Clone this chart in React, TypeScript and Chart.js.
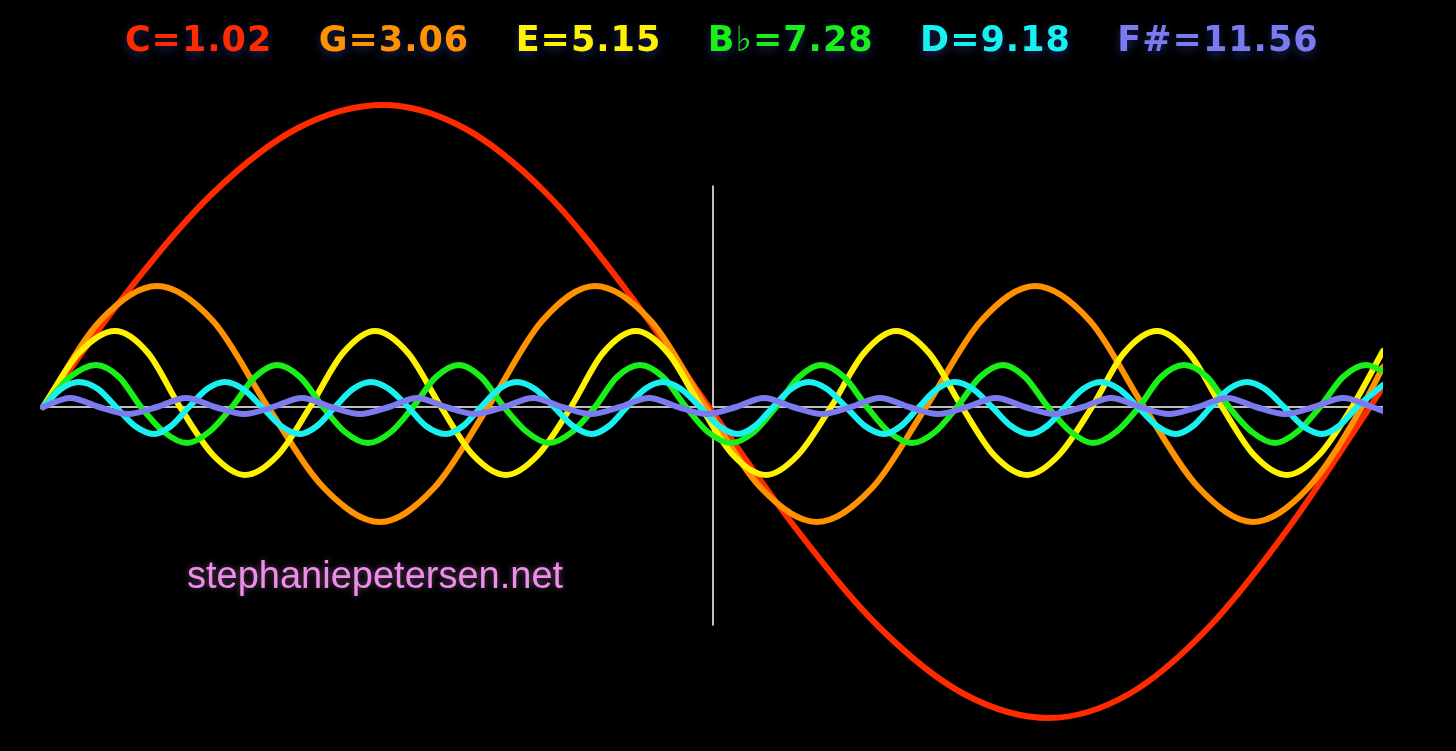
import React, { useEffect, useRef } from 'react';
import { Chart, registerables } from 'chart.js';

Chart.register(...registerables);

// Legend / note labels and colours
const noteLabels = ['C=1.02', 'G=3.06', 'E=5.15', 'B\u266D=7.28', 'D=9.18', 'F#=11.56'];
const noteColors = ['#ff2a00', '#ff9200', '#fff200', '#1aef1a', '#19f0f0', '#7b7bef'];

// x positions (horizontal units) and amplitudes (vertical units, + = up)
const xC = [0, 85, 170, 255, 340, 421, 503, 584, 666, 751, 836, 921, 1006, 1086, 1166, 1247, 1327, 1340];
const yC = [0, 116, 214, 279, 302, 279, 214, 116, 0, -119, -220, -287, -311, -287, -220, -119, 0, 20];

const xG = [0, 57, 114, 170, 225, 281, 337, 391, 445, 499, 552, 608, 663, 718, 774, 829, 883, 938, 992, 1047, 1101, 1156, 1210, 1265, 1319, 1340];
const yG = [0, 86, 121, 86, 0, -81, -115, -81, 0, 86, 121, 86, 0, -81, -115, -81, 0, 86, 121, 86, 0, -81, -115, -81, 0, 40];

const xE = [0, 36, 72, 105, 137, 170, 202, 235, 267, 300, 332, 365, 398, 430, 463, 495, 528, 560, 593, 625, 658, 690, 723, 755, 788, 821, 853, 886, 919, 951, 984, 1016, 1049, 1081, 1114, 1146, 1179, 1211, 1244, 1276, 1309, 1340];
const yE = [0, 54, 76, 54, 0, -48, -68, -48, 0, 54, 76, 54, 0, -48, -68, -48, 0, 54, 76, 54, 0, -48, -68, -48, 0, 54, 76, 54, 0, -48, -68, -48, 0, 54, 76, 54, 0, -48, -68, -48, 0, 56];

const xBb = [0, 27, 53, 76, 98, 121, 144, 166, 189, 212, 234, 257, 280, 302, 325, 348, 370, 393, 416, 438, 461, 484, 506, 529, 552, 574, 597, 620, 643, 665, 688, 711, 733, 756, 778, 801, 824, 846, 869, 892, 914, 937, 960, 982, 1005, 1028, 1050, 1073, 1096, 1118, 1141, 1164, 1186, 1209, 1232, 1254, 1277, 1300, 1323, 1340];
const yBb = [0, 30, 42, 30, 0, -25, -36, -25, 0, 30, 42, 30, 0, -25, -36, -25, 0, 30, 42, 30, 0, -25, -36, -25, 0, 30, 42, 30, 0, -25, -36, -25, 0, 30, 42, 30, 0, -25, -36, -25, 0, 30, 42, 30, 0, -25, -36, -25, 0, 30, 42, 30, 0, -25, -36, -25, 0, 30, 42, 36];

const xD = [0, 18, 36, 55, 73, 92, 111, 128, 146, 164, 182, 200, 219, 238, 257, 274, 292, 310, 328, 346, 365, 383, 403, 420, 438, 456, 474, 492, 511, 530, 549, 566, 584, 602, 620, 638, 657, 676, 695, 712, 730, 748, 766, 784, 803, 822, 841, 858, 876, 894, 912, 930, 949, 968, 987, 1004, 1022, 1040, 1058, 1076, 1095, 1114, 1133, 1150, 1168, 1186, 1204, 1222, 1241, 1260, 1279, 1296, 1314, 1340];
const yD = [0, 18, 25, 18, 0, -19, -27, -19, 0, 18, 25, 18, 0, -19, -27, -19, 0, 18, 25, 18, 0, -19, -27, -19, 0, 18, 25, 18, 0, -19, -27, -19, 0, 18, 25, 18, 0, -19, -27, -19, 0, 18, 25, 18, 0, -19, -27, -19, 0, 18, 25, 18, 0, -19, -27, -19, 0, 18, 25, 18, 0, -19, -27, -19, 0, 18, 25, 18, 0, -19, -27, -19, 0, 22];

const xFs = [0, 27, 56, 85, 114, 143, 172, 201, 230, 259, 288, 317, 346, 374, 403, 432, 461, 490, 519, 548, 577, 606, 635, 664, 693, 721, 750, 779, 808, 837, 866, 895, 924, 953, 982, 1011, 1040, 1068, 1097, 1126, 1155, 1184, 1213, 1242, 1271, 1300, 1329, 1340];
const yFs = [0, 9, 0, -7, 0, 9, 0, -7, 0, 9, 0, -7, 0, 9, 0, -7, 0, 9, 0, -7, 0, 9, 0, -7, 0, 9, 0, -7, 0, 9, 0, -7, 0, 9, 0, -7, 0, 9, 0, -7, 0, 9, 0, -7, 0, 9, 0, -4];

// white reference axes
const hAxisX = [0, 1340];
const hAxisY = [0, 0];
const vAxisX = [670, 670];
const vAxisY = [221, -218];

const seriesX = [xC, xG, xE, xBb, xD, xFs];
const seriesY = [yC, yG, yE, yBb, yD, yFs];

const X_MIN = 0;
const X_MAX = 1340;
const Y_MIN = -324;
const Y_MAX = 338;

const zip = (xs: number[], ys: number[]) => xs.map((x, i) => ({ x, y: ys[i] }));

const legendStyle = {
  id: 'legendStyle',
  beforeLayout(chart: any) {
    chart.ctx.letterSpacing = '1px';
  },
  beforeDraw(chart: any) {
    const c = chart.ctx;
    c.letterSpacing = '1px';
    c.shadowColor = 'rgba(40,60,150,0.6)';
    c.shadowBlur = 10;
    c.shadowOffsetY = 4;
  },
  beforeDatasetsDraw(chart: any) {
    const c = chart.ctx;
    c.letterSpacing = '0px';
    c.shadowColor = 'rgba(0,0,0,0)';
    c.shadowBlur = 0;
    c.shadowOffsetY = 0;
  },
};

export default function App() {
  const ref = useRef<HTMLCanvasElement>(null);

  useEffect(() => {
    document.body.style.margin = '0';
    document.body.style.background = '#000';
    const canvas = ref.current!;
    const waveSets = noteLabels.map((label, i) => ({
      label,
      data: zip(seriesX[i], seriesY[i]),
      borderColor: noteColors[i],
      backgroundColor: noteColors[i],
      borderWidth: 6,
      pointRadius: 0,
      fill: false,
      cubicInterpolationMode: 'monotone' as const,
      clip: { left: 3, top: 10, right: 0, bottom: 10 },
      order: 6 - i,
    }));
    const axisSets = [
      { label: 'h-axis', data: zip(hAxisX, hAxisY) },
      { label: 'v-axis', data: zip(vAxisX, vAxisY) },
    ].map((d) => ({
      ...d,
      borderColor: '#ffffff',
      backgroundColor: '#ffffff',
      borderWidth: 1.5,
      pointRadius: 0,
      fill: false,
      tension: 0,
      cubicInterpolationMode: 'default' as const,
      order: 10,
    }));

    const chart = new Chart(canvas, {
      type: 'line',
      data: { datasets: [...waveSets, ...axisSets] as any },
      options: {
        animation: false,
        responsive: false,
        maintainAspectRatio: false,
        layout: { padding: { top: -5, left: 43, right: 73, bottom: 20 } },
        plugins: {
          tooltip: { enabled: false },
          title: { display: false },
          legend: {
            display: true,
            position: 'top',
            align: 'center',
            labels: {
              boxWidth: 0,
              boxHeight: 0,
              padding: 29,
              font: { family: 'DejaVu Sans', weight: 'bold', size: 35 },
              generateLabels: () =>
                noteLabels.map((text, i) => ({
                  text,
                  fontColor: noteColors[i],
                  fillStyle: 'rgba(0,0,0,0)',
                  strokeStyle: 'rgba(0,0,0,0)',
                  lineWidth: 0,
                  hidden: false,
                  datasetIndex: i,
                })) as any,
            },
          },
        },
        scales: {
          x: { type: 'linear', min: X_MIN, max: X_MAX, display: false },
          y: { type: 'linear', min: Y_MIN, max: Y_MAX, display: false },
        },
        elements: {
          point: { radius: 0 },
          line: { borderCapStyle: 'round', borderJoinStyle: 'round' },
        },
      },
      plugins: [legendStyle],
    });
    return () => chart.destroy();
  }, []);

  return (
    <div style={{ position: 'relative', width: 1456, height: 751, background: '#000', overflow: 'hidden' }}>
      <canvas ref={ref} width={1456} height={751} style={{ display: 'block', width: 1456, height: 751 }} />
      <div
        style={{
          position: 'absolute',
          left: 187,
          top: 556,
          fontFamily: '"Liberation Sans", Arial, sans-serif',
          fontSize: 38,
          lineHeight: '38px',
          color: '#ec8fe9',
          whiteSpace: 'nowrap',
          textShadow: '0 0 6px rgba(236,143,233,0.45)',
        }}
      >
        stephaniepetersen.net
      </div>
    </div>
  );
}
